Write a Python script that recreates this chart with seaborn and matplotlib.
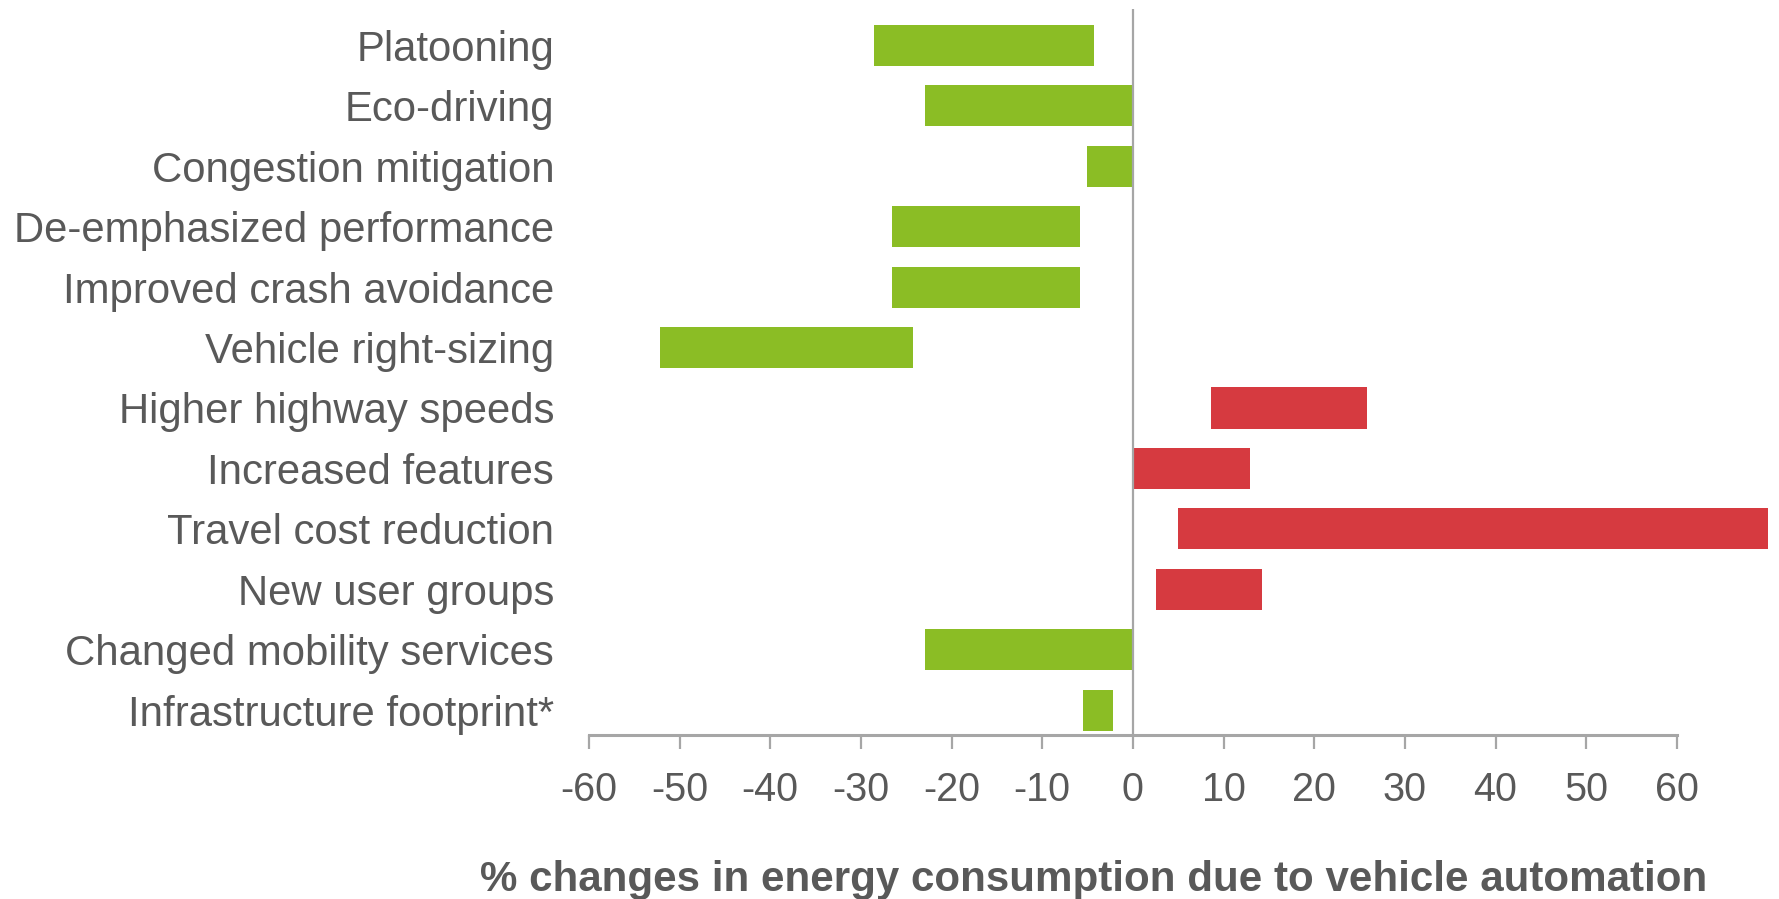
import matplotlib
matplotlib.use("Agg")
import matplotlib.pyplot as plt
import seaborn as sns
import pandas as pd

# Ranges of energy-consumption change (%) attributed to each automation effect
categories = [
    "Platooning",
    "Eco-driving",
    "Congestion mitigation",
    "De-emphasized performance",
    "Improved crash avoidance",
    "Vehicle right-sizing",
    "Higher highway speeds",
    "Increased features",
    "Travel cost reduction",
    "New user groups",
    "Changed mobility services",
    "Infrastructure footprint*",
]
range_low = [-28.6, -22.9, -5.1, -26.6, -26.6, -52.1, 8.6, 0.0, 5.0, 2.5, -22.9, -5.5]
range_high = [-4.3, 0.0, 0.0, -5.8, -5.8, -24.2, 25.8, 12.9, 70.1, 14.2, 0.0, -2.2]
effect = ["decrease"] * 6 + ["increase"] * 4 + ["decrease"] * 2

tick_values = [-60, -50, -40, -30, -20, -10, 0, 10, 20, 30, 40, 50, 60]
x_label = "% changes in energy consumption due to vehicle automation"

GREEN = "#8BBD25"
RED = "#D63A40"
TEXT = "#595959"
AXIS = "#A6A6A6"

df = pd.DataFrame({
    "category": categories,
    "low": range_low,
    "high": range_high,
    "effect": effect,
})
df["span"] = df["high"] - df["low"]

sns.set_theme(style="white")
plt.rcParams["font.family"] = ["Liberation Sans", "DejaVu Sans"]

fig = plt.figure(figsize=(17.79, 8.99), dpi=100)
ax = fig.add_axes([0.331, 0.1824, 0.6651, 0.8076])

sns.barplot(
    data=df, x="span", y="category", hue="effect",
    palette={"decrease": GREEN, "increase": RED},
    order=categories, dodge=False, legend=False, width=0.68,
    saturation=1, ax=ax, orient="h",
)

# shift each floating bar so it starts at the low end of its range
for patch in ax.patches:
    idx = int(round(patch.get_y() + patch.get_height() / 2))
    patch.set_x(df["low"].iloc[idx])
    patch.set_edgecolor("none")

ax.set_xlim(-60, 70.5)
ax.set_ylim(len(categories) - 1 + 0.41, -0.6)

ax.axvline(0, color=AXIS, lw=1.6, zorder=3)

for side in ["top", "right", "left"]:
    ax.spines[side].set_visible(False)
ax.spines["bottom"].set_color(AXIS)
ax.spines["bottom"].set_linewidth(2.2)
ax.spines["bottom"].set_bounds(-60, 60)

ax.set_xticks(tick_values)
ax.set_xticklabels([str(v) for v in tick_values])
ax.tick_params(axis="x", bottom=True, length=10, width=1.6, color=AXIS,
               labelsize=28.5, labelcolor=TEXT, pad=16)
ax.tick_params(axis="y", left=False, labelsize=30.2, labelcolor=TEXT, pad=19)

ax.set_ylabel("")
ax.set_xlabel(x_label, fontsize=30.3, fontweight="bold", color=TEXT)
ax.xaxis.label.set_va("center")
ax.xaxis.set_label_coords(0.4267, -0.199)

fig.savefig("out.png", dpi=100, facecolor="white")
